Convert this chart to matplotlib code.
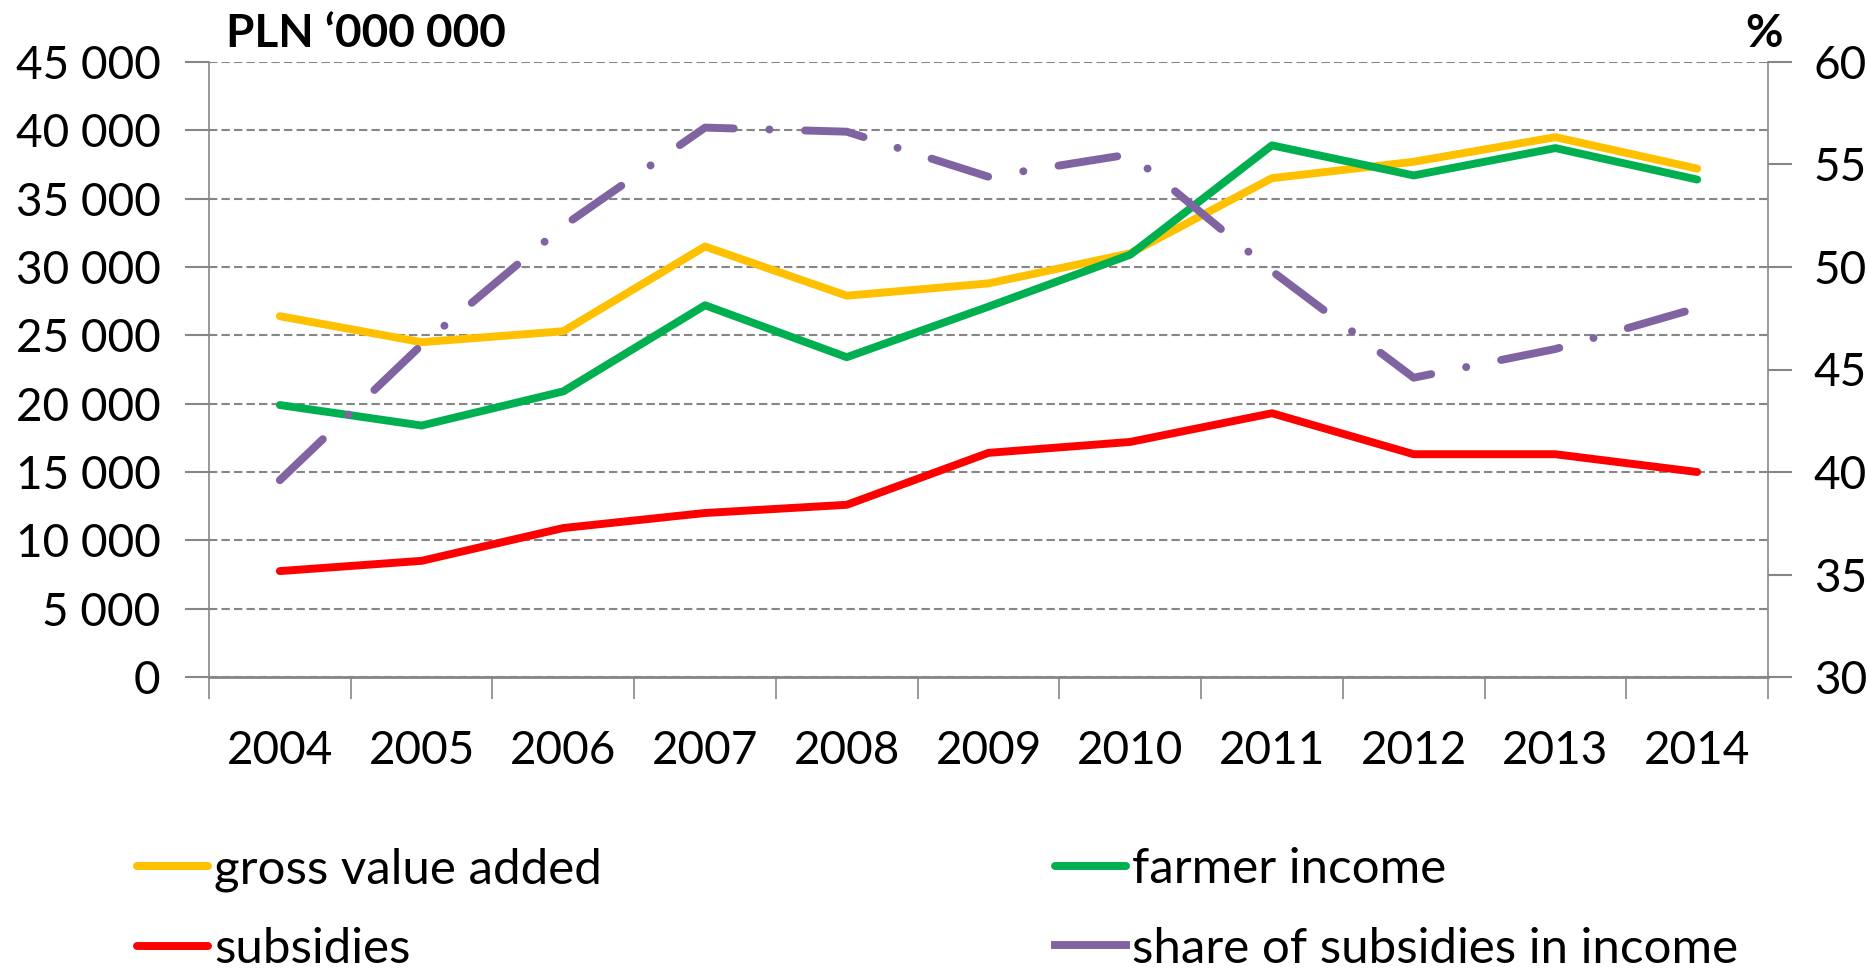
import matplotlib
matplotlib.use("Agg")
import matplotlib.pyplot as plt
from matplotlib.ticker import FixedLocator, FuncFormatter, MultipleLocator
import numpy as np

plt.rcParams['font.family'] = ['Lato', 'DejaVu Sans']

years = ['2004', '2005', '2006', '2007', '2008', '2009', '2010', '2011', '2012', '2013', '2014']
gross_value_added = [26400, 24500, 25300, 31500, 27900, 28800, 31000, 36500, 37700, 39500, 37200]
farmer_income = [19900, 18400, 20900, 27200, 23400, 27100, 30900, 38900, 36700, 38700, 36400]
subsidies = [7750, 8500, 10900, 12000, 12600, 16400, 17200, 19300, 16300, 16300, 15000]
share_pct = [39.6, 46.2, 52.0, 56.8, 56.6, 54.4, 55.5, 49.8, 44.6, 46.0, 48.0]

GRAY = '#868686'
FS = 33
FS_LEG = 35.5

fig = plt.figure(figsize=(18.66, 9.71), dpi=100)
ax = fig.add_axes([209/1866, 1 - 677/971, (1768-209)/1866, (677-62)/971])
ax2 = ax.twinx()

x = np.arange(len(years))
lw = 5.7
l1, = ax.plot(x, gross_value_added, color='#FFC000', lw=lw, solid_joinstyle='round',
              solid_capstyle='round', label='gross value added', zorder=3)
l2, = ax.plot(x, farmer_income, color='#00B050', lw=lw, solid_joinstyle='round',
              solid_capstyle='round', label='farmer income', zorder=4)
l3, = ax.plot(x, subsidies, color='#FF0000', lw=lw, solid_joinstyle='round',
              solid_capstyle='round', label='subsidies', zorder=5)
l4, = ax2.plot(x, share_pct, color='#8064A2', lw=lw, linestyle=(0, (7.5, 4.5, 0.01, 4.5)),
               dash_capstyle='round', dash_joinstyle='round',
               label='share of subsidies in income')

# left axis
ax.set_ylim(0, 45000)
ax.yaxis.set_major_locator(MultipleLocator(5000))
ax.yaxis.set_major_formatter(FuncFormatter(lambda v, p: f"{int(v):,}".replace(",", " ")))
ax.grid(axis='y', color=GRAY, lw=1.5, linestyle=(0, (4, 2)))
ax.set_axisbelow(True)

# right axis
ax2.set_ylim(30, 60)
ax2.yaxis.set_major_locator(MultipleLocator(5))

# category x axis: ticks between categories, labels at centres
ax.set_xlim(-0.5, len(years) - 0.5)
ax.xaxis.set_major_locator(FixedLocator(np.arange(-0.5, len(years), 1.0)))
ax.xaxis.set_major_formatter(FuncFormatter(lambda v, p: ''))
ax.xaxis.set_minor_locator(FixedLocator(x))
ax.set_xticklabels(years, minor=True)
ax.tick_params(axis='x', which='major', length=16, width=1.2, color=GRAY)
ax.tick_params(axis='x', which='minor', length=0, labelsize=FS, pad=38)

ax.tick_params(axis='y', length=17, width=1.5, color=GRAY, labelsize=FS, pad=18)
ax2.tick_params(axis='y', length=17, width=1.5, color=GRAY, labelsize=FS, pad=16)

for a in (ax, ax2):
    for s in a.spines.values():
        s.set_visible(False)
ax.spines['left'].set_visible(True)
ax.spines['left'].set_color(GRAY)
ax.spines['left'].set_linewidth(1.2)
ax.spines['bottom'].set_visible(True)
ax.spines['bottom'].set_color(GRAY)
ax.spines['bottom'].set_linewidth(2)
ax2.spines['right'].set_visible(True)
ax2.spines['right'].set_color(GRAY)
ax2.spines['right'].set_linewidth(1.2)

fig.text(226/1866, 1 - 47/971, 'PLN \u2018000 000', fontsize=FS, fontweight='bold', va='baseline')
fig.text(1783/1866, 1 - 47/971, '%', fontsize=FS, fontweight='bold', va='baseline', ha='right')

fig.legend(handles=[l1, l3, l2, l4], ncol=2, loc='upper left',
           bbox_to_anchor=(137/1866, 1 - 847/971), frameon=False, fontsize=FS_LEG,
           borderpad=0, borderaxespad=0, handlelength=1.44, handletextpad=0.12,
           columnspacing=9.2, labelspacing=0.72)
for h in fig.legends[0].get_lines():
    h.set_linestyle('-')

fig.savefig('out.png', dpi=100)
